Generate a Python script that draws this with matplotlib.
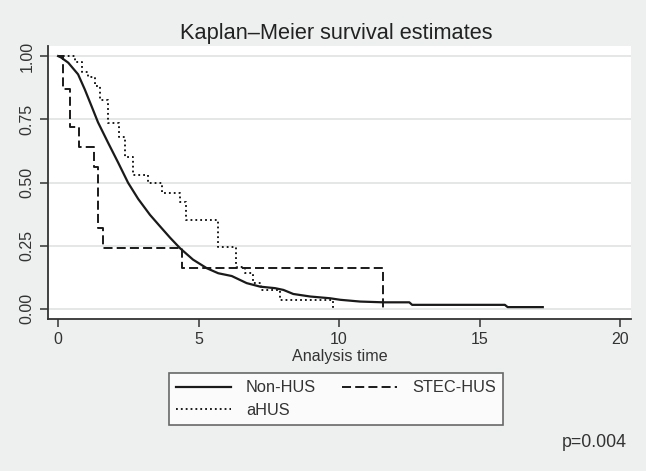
import matplotlib
matplotlib.use("Agg")
import matplotlib.pyplot as plt

plt.rcParams['font.family'] = ['Liberation Sans', 'DejaVu Sans']
plt.rcParams['lines.scale_dashes'] = False

# Non-HUS (large group)
nonhus_t = [0, 0.1, 0.36, 0.71, 0.95, 1.19, 1.42, 1.78, 2.14, 2.49, 2.85, 3.27, 3.6,
            3.99, 4.34, 4.8, 5.29, 5.7, 6.18, 6.71, 7.19, 7.72, 8.02, 8.37, 8.97,
            9.68, 10.04, 10.75, 11.57, 12.5, 12.6, 15.9, 16.0, 17.25]
nonhus_s = [1.0, 0.995, 0.974, 0.928, 0.868, 0.802, 0.738, 0.657, 0.578, 0.499,
            0.435, 0.372, 0.33, 0.281, 0.24, 0.195, 0.161, 0.141, 0.13, 0.102,
            0.088, 0.082, 0.075, 0.059, 0.049, 0.042, 0.036, 0.029, 0.026, 0.026,
            0.016, 0.016, 0.007, 0.007]

# STEC-HUS
stec_t = [0, 0.17, 0.43, 0.76, 1.26, 1.43, 1.61, 4.40, 11.56]
stec_s = [1.0, 0.87, 0.72, 0.64, 0.56, 0.32, 0.24, 0.16, 0.0]

# aHUS
ahus_t = [0, 0.59, 0.84, 1.08, 1.31, 1.49, 1.79, 2.15, 2.38, 2.68, 3.21, 3.69,
          4.34, 4.56, 5.70, 6.33, 6.65, 6.95, 7.22, 7.90, 9.78]
ahus_s = [1.0, 0.976, 0.938, 0.916, 0.881, 0.826, 0.734, 0.68, 0.602, 0.53, 0.497,
          0.457, 0.424, 0.352, 0.246, 0.167, 0.141, 0.102, 0.075, 0.036, 0.0]

p_text = "p=0.004"
bg = '#eeefef'
ink = '#1a1a1a'

fig = plt.figure(figsize=(6.46, 4.71), dpi=100, facecolor=bg)
ax = fig.add_axes([48 / 646, 1 - 319 / 471, 583 / 646, 273 / 471])
ax.set_facecolor('white')

for y in [0, 0.25, 0.5, 0.75, 1.0]:
    ax.axhline(y, color='#e3e5e5', lw=1.3, zorder=0)

l1, = ax.plot(nonhus_t, nonhus_s, color=ink, lw=1.6, label='Non-HUS')
l2, = ax.plot(stec_t, stec_s, color=ink, lw=1.4, drawstyle='steps-post',
              dashes=(6.5, 3), label='STEC-HUS')
l3, = ax.plot(ahus_t, ahus_s, color=ink, lw=1.4, drawstyle='steps-post',
              dashes=(1.3, 2.2), label='aHUS')

ax.set_xlim(-0.36, 20.39)
ax.set_ylim(-0.04, 1.04)
ax.set_xticks([0, 5, 10, 15, 20])
ax.set_yticks([0, 0.25, 0.5, 0.75, 1.0])
ax.set_yticklabels(['0.00', '0.25', '0.50', '0.75', '1.00'], rotation=90, va='center')

for s in ['top', 'right']:
    ax.spines[s].set_visible(False)
for s in ['left', 'bottom']:
    ax.spines[s].set_color('#333333')
    ax.spines[s].set_linewidth(1.3)
ax.tick_params(length=5.5, width=1.1, color='#333333', labelsize=11.5,
               labelcolor='#333333', pad=4)

ax.set_xlabel('Analysis time', fontsize=11.6, color='#333333', labelpad=1)

fig.text(336 / 646, 1 - 39 / 471, 'Kaplan\u2013Meier survival estimates',
         ha='center', va='baseline', fontsize=15.7, color='#222222')

leg = fig.legend([l1, l3, l2], ['Non-HUS', 'aHUS', 'STEC-HUS'], ncol=2,
                 loc='upper left', bbox_to_anchor=(169 / 646, 1 - 373 / 471),
                 fontsize=11.8, frameon=True, fancybox=False, handlelength=3.35,
                 handletextpad=0.9, columnspacing=1.6, labelspacing=0.45,
                 borderpad=0.45, borderaxespad=0)
leg.get_frame().set_edgecolor('#444444')
leg.get_frame().set_linewidth(1.2)
for t in leg.get_texts():
    t.set_color('#333333')

fig.text(627 / 646, 1 - 447 / 471, p_text, ha='right', va='baseline',
         fontsize=12.8, color='#333333')

fig.savefig('out.png', dpi=100, facecolor=bg)
